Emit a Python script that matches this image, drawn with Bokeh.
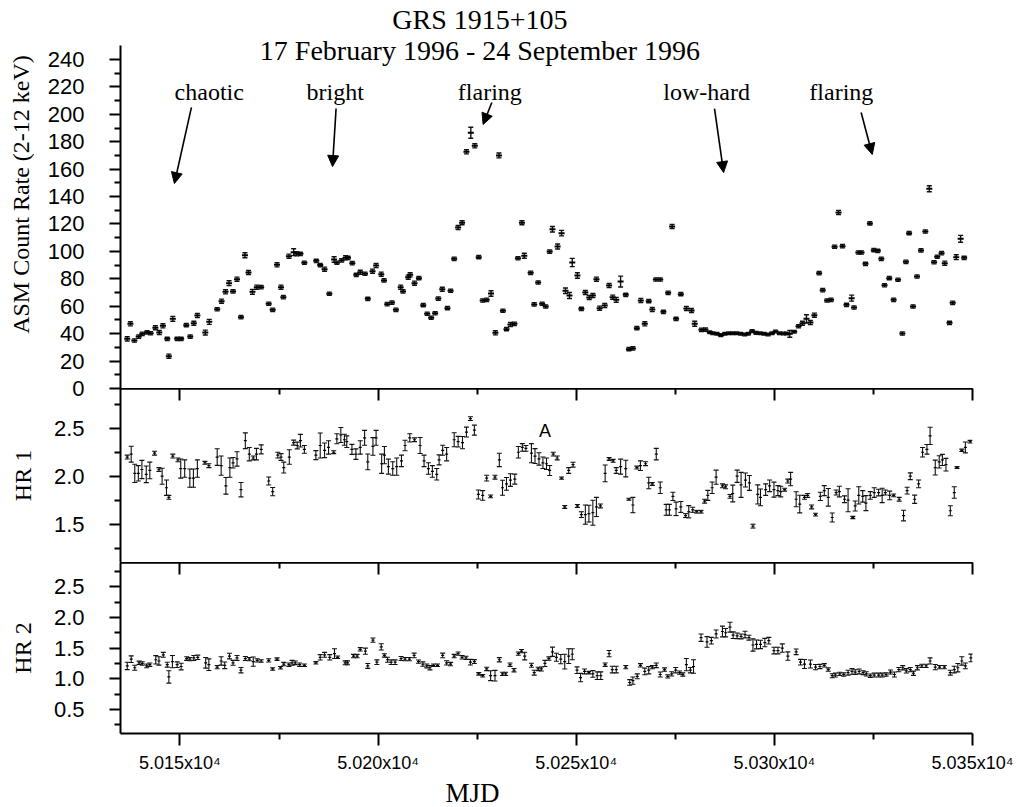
import numpy as np
from bokeh.plotting import figure
from bokeh.layouts import column
from bokeh.models import (Range1d, FixedTicker, Whisker, TeeHead, ColumnDataSource,
                          LinearAxis, Title, Arrow, NormalHead, PrintfTickFormatter)
from bokeh.core.properties import value
from bokeh.embed import file_html
from bokeh.resources import INLINE

# ---------------- data ----------------
asm_mjd = [50136.7, 50137.5, 50138.5, 50139.6, 50140.5, 50141.7, 50142.6, 50143.8, 50144.8, 50145.7,
           50146.8, 50147.2, 50148.2, 50149.3, 50150.3, 50151.6, 50152.6, 50153.5, 50154.4, 50156.4,
           50157.4, 50159.4, 50160.5, 50161.5, 50162.4, 50163.4, 50164.4, 50165.4, 50166.4, 50167.3,
           50168.3, 50169.4, 50170.5, 50172.4, 50173.4, 50174.5, 50175.5, 50176.1, 50177.5, 50178.7,
           50179.5, 50180.4, 50181.4, 50184.4, 50185.4, 50186.5, 50187.7, 50188.9, 50189.6, 50190.8,
           50191.8, 50192.4, 50193.5, 50194.5, 50195.5, 50196.7, 50197.4, 50198.6, 50199.5, 50200.8,
           50201.5, 50202.3, 50203.5, 50204.5, 50205.7, 50206.3, 50207.6, 50208.1, 50209.2, 50210.3,
           50211.4, 50212.4, 50213.4, 50214.4, 50215.2, 50216.2, 50217.5, 50218.3, 50219.2, 50220.2,
           50221.2, 50222.3, 50223.4, 50224.4, 50225.4, 50226.4, 50227.4, 50228.5, 50229.6, 50230.5,
           50231.5, 50232.4, 50233.4, 50234.4, 50235.3, 50236.3, 50236.9, 50238.5, 50239.4, 50240.4,
           50241.4, 50242.3, 50243.3, 50244.0, 50245.3, 50246.3, 50247.3, 50248.3, 50249.0, 50250.3,
           50251.3, 50252.3, 50253.3, 50254.2, 50255.1, 50255.9, 50257.2, 50258.3, 50259.2, 50260.1,
           50261.2, 50262.5, 50263.3, 50264.3, 50265.3, 50266.3, 50267.3, 50268.3, 50269.2, 50270.1,
           50271.2, 50272.0, 50273.2, 50274.2, 50275.2, 50276.4, 50277.8, 50279.1, 50279.9, 50281.6,
           50282.6, 50283.7, 50284.5, 50285.5, 50286.5, 50287.5, 50288.5, 50289.5, 50290.5, 50291.5,
           50292.5, 50293.4, 50294.4, 50295.4, 50296.4, 50297.4, 50298.4, 50299.4, 50300.3, 50301.3,
           50302.3, 50303.1, 50303.9, 50305.0, 50306.1, 50307.1, 50308.1, 50309.1, 50310.1, 50311.3,
           50312.2, 50313.3, 50314.3, 50315.2, 50316.2, 50317.2, 50318.2, 50319.5, 50320.1, 50321.2,
           50322.0, 50323.0, 50324.1, 50325.1, 50326.1, 50327.0, 50327.8, 50329.0, 50330.1, 50331.2,
           50332.3, 50333.2, 50334.0, 50335.0, 50336.0, 50337.0, 50338.1, 50339.1, 50340.3, 50341.1,
           50342.2, 50343.0, 50344.2, 50345.0, 50345.9, 50347.0, 50347.9]
asm_rate = [36.2, 47.2, 35.0, 37.9, 39.9, 41.0, 40.3, 44.3, 40.8, 45.7,
            36.2, 23.6, 50.8, 36.2, 36.2, 46.2, 37.9, 47.6, 53.2, 40.8,
            48.6, 57.8, 63.7, 70.5, 76.8, 70.8, 79.7, 52.0, 97.2, 84.6,
            70.5, 73.9, 73.9, 61.8, 57.4, 90.2, 73.9, 66.6, 96.5, 99.4,
            98.2, 98.2, 91.7, 93.1, 90.0, 87.0, 69.1, 94.1, 91.7, 93.4,
            95.3, 95.3, 91.4, 82.9, 84.8, 83.7, 65.4, 85.6, 89.7, 83.4,
            78.8, 61.5, 62.7, 57.4, 73.9, 70.8, 81.2, 82.9, 76.8, 80.5,
            60.8, 54.5, 51.6, 54.9, 65.6, 72.4, 58.6, 71.3, 94.6, 117.4,
            120.9, 172.6, 186.5, 177.0, 95.8, 64.2, 64.7, 69.3, 40.6, 170.0,
            56.7, 43.3, 46.7, 47.2, 95.0, 120.9, 96.8, 84.4, 61.3, 77.3,
            61.8, 59.8, 99.9, 116.2, 103.6, 113.3, 71.3, 67.8, 91.9, 82.4,
            58.1, 70.0, 66.4, 67.8, 79.7, 58.6, 60.5, 75.1, 66.6, 64.7,
            78.0, 68.3, 28.7, 29.2, 44.0, 64.2, 47.2, 63.7, 57.6, 79.5,
            79.5, 55.9, 69.8, 118.2, 50.8, 68.8, 58.4, 56.9, 47.2, 42.8,
            43.0, 41.0, 40.3, 39.9, 38.9, 39.9, 40.3, 40.3, 40.3, 39.9,
            39.4, 39.9, 41.8, 40.6, 40.3, 39.9, 39.4, 40.3, 41.6, 40.3,
            40.1, 40.1, 39.9, 41.4, 45.4, 47.6, 50.8, 48.1, 53.5, 84.1,
            71.7, 64.2, 64.7, 103.4, 128.4, 103.8, 61.0, 65.9, 59.1, 99.2,
            99.2, 90.9, 120.4, 100.9, 100.4, 94.6, 75.3, 80.5, 64.7, 79.3,
            40.1, 92.4, 113.3, 59.8, 81.7, 100.7, 114.5, 145.7, 92.1, 96.1,
            98.7, 91.4, 47.9, 62.5, 95.8, 109.2, 95.3]
asm_err = [1.5, 1.5, 1.2, 1.2, 1.2, 1.2, 1.2, 1.5, 1.5, 1.5,
           1.2, 1.5, 1.8, 1.2, 1.2, 1.2, 1.2, 1.5, 1.5, 1.8,
           1.8, 1.2, 1.5, 1.5, 1.8, 1.2, 1.5, 1.2, 1.8, 1.5,
           1.8, 1.5, 1.2, 1.2, 1.2, 1.5, 1.5, 1.2, 1.5, 2.5,
           1.5, 1.2, 1.2, 1.2, 1.2, 1.5, 1.2, 2.0, 1.2, 1.2,
           1.5, 1.2, 1.2, 1.2, 1.5, 1.2, 1.2, 1.5, 1.5, 1.5,
           1.2, 1.2, 1.2, 1.2, 1.5, 1.2, 1.5, 1.5, 1.5, 1.2,
           1.2, 1.2, 1.2, 1.2, 1.2, 1.5, 1.2, 1.2, 1.2, 1.5,
           1.5, 1.5, 4.0, 1.5, 1.2, 1.2, 1.2, 2.0, 1.5, 1.8,
           1.2, 1.2, 1.5, 1.2, 1.2, 1.5, 1.8, 1.2, 1.2, 1.2,
           1.2, 1.2, 1.2, 2.0, 1.8, 2.0, 2.0, 2.2, 3.0, 2.0,
           1.2, 1.5, 1.5, 1.5, 1.5, 1.5, 1.5, 1.5, 1.5, 1.8,
           4.0, 1.2, 1.2, 1.2, 1.2, 1.5, 1.5, 1.2, 1.5, 1.2,
           1.2, 1.2, 1.2, 1.5, 1.2, 1.2, 1.5, 1.5, 1.8, 1.2,
           1.2, 1.0, 1.0, 1.0, 1.0, 1.0, 1.0, 1.0, 1.0, 1.0,
           1.0, 1.0, 1.0, 1.0, 1.0, 1.0, 1.0, 1.0, 1.0, 1.0,
           1.0, 1.0, 2.5, 1.0, 1.2, 1.5, 3.0, 1.5, 1.5, 1.2,
           1.2, 1.2, 1.2, 1.2, 1.5, 1.2, 1.2, 2.2, 1.2, 1.2,
           1.2, 1.2, 1.2, 1.2, 1.2, 1.2, 1.2, 1.2, 1.2, 1.2,
           1.2, 1.2, 1.2, 1.2, 1.2, 1.2, 1.2, 2.2, 1.2, 1.2,
           1.2, 1.5, 1.2, 1.2, 1.8, 2.5, 1.2]

hr1_mjd = [50136.7, 50137.7, 50138.6, 50139.5, 50140.4, 50141.5, 50142.4, 50143.6, 50144.7, 50145.5,
           50146.6, 50147.2, 50148.2, 50149.5, 50150.2, 50151.2, 50152.5, 50153.4, 50154.4, 50156.3,
           50157.3, 50159.4, 50160.4, 50161.6, 50162.6, 50163.4, 50164.4, 50165.4, 50166.5, 50167.5,
           50168.5, 50169.3, 50170.5, 50172.4, 50173.4, 50174.7, 50175.5, 50176.2, 50177.6, 50178.7,
           50179.6, 50180.4, 50181.4, 50184.3, 50185.4, 50186.5, 50187.5, 50188.8, 50189.6, 50190.6,
           50191.5, 50192.1, 50193.4, 50194.4, 50195.5, 50196.6, 50197.4, 50198.7, 50199.5, 50200.9,
           50201.6, 50202.6, 50203.7, 50204.7, 50205.9, 50206.8, 50208.0, 50209.2, 50210.6, 50211.6,
           50212.7, 50213.7, 50214.8, 50215.4, 50216.3, 50217.3, 50219.2, 50220.2, 50221.3, 50222.3,
           50223.3, 50224.3, 50225.3, 50226.4, 50227.4, 50228.4, 50229.5, 50230.6, 50231.4, 50232.4,
           50233.4, 50234.5, 50235.4, 50236.4, 50237.3, 50238.7, 50239.6, 50240.6, 50241.6, 50242.5,
           50243.3, 50244.2, 50245.2, 50246.3, 50247.1, 50248.1, 50249.2, 50250.3, 50251.3, 50252.3,
           50253.2, 50254.2, 50255.1, 50256.1, 50257.3, 50258.3, 50259.3, 50260.1, 50261.2, 50262.5,
           50263.3, 50264.3, 50265.3, 50266.2, 50267.5, 50268.3, 50269.2, 50270.2, 50271.2, 50272.7,
           50273.5, 50274.4, 50275.2, 50276.4, 50277.6, 50278.4, 50279.4, 50280.4, 50281.5, 50282.4,
           50283.2, 50284.3, 50285.3, 50286.9, 50287.7, 50288.8, 50289.5, 50290.6, 50291.6, 50292.7,
           50293.7, 50294.6, 50295.8, 50296.5, 50297.8, 50298.8, 50299.9, 50300.9, 50301.6, 50302.6,
           50303.4, 50304.1, 50305.5, 50306.4, 50307.6, 50308.4, 50309.4, 50310.4, 50311.6, 50312.6,
           50313.6, 50314.6, 50315.6, 50316.4, 50317.7, 50318.6, 50319.8, 50320.4, 50321.3, 50322.3,
           50323.1, 50324.2, 50325.2, 50326.3, 50327.2, 50328.0, 50329.1, 50330.1, 50331.5, 50332.6,
           50333.5, 50334.3, 50335.4, 50336.4, 50337.4, 50338.5, 50339.3, 50340.6, 50341.6, 50342.4,
           50343.3, 50344.4, 50345.4, 50346.1, 50347.3, 50348.2, 50349.4]
hr1 = [2.20, 2.23, 2.03, 2.03, 2.07, 2.02, 2.06, 2.24, 2.07, 2.00,
       1.88, 1.78, 2.21, 2.17, 2.08, 2.08, 1.98, 1.98, 2.08, 2.14,
       2.11, 2.20, 2.11, 1.90, 2.09, 2.14, 2.18, 1.86, 2.37, 2.23,
       2.19, 2.23, 2.28, 1.95, 1.84, 2.22, 2.20, 2.09, 2.20, 2.35,
       2.32, 2.37, 2.28, 2.22, 2.32, 2.27, 2.30, 2.25, 2.39, 2.43,
       2.38, 2.36, 2.28, 2.23, 2.30, 2.40, 2.15, 2.31, 2.40, 2.13,
       2.22, 2.10, 2.08, 2.10, 2.16, 2.32, 2.40, 2.38, 2.32, 2.16,
       2.08, 2.05, 2.02, 2.17, 2.27, 2.23, 2.38, 2.36, 2.35, 2.46,
       2.60, 2.48, 1.81, 1.80, 1.98, 1.79, 1.99, 2.17, 1.88, 1.92,
       1.96, 1.97, 2.25, 2.30, 2.29, 2.24, 2.21, 2.18, 2.14, 2.13,
       2.06, 2.23, 2.19, 1.98, 1.68, 2.06, 2.12, 1.69, 1.60, 1.60,
       1.61, 1.62, 1.68, 1.69, 2.03, 2.18, 2.16, 2.06, 2.10, 2.08,
       1.76, 1.70, 2.09, 2.11, 2.13, 1.93, 1.92, 2.23, 1.88, 1.65,
       1.65, 1.79, 1.66, 1.68, 1.59, 1.63, 1.65, 1.63, 1.63, 1.74,
       1.80, 1.88, 1.99, 1.90, 1.89, 1.79, 1.82, 2.00, 1.91, 1.96,
       1.93, 1.48, 1.81, 1.78, 1.86, 1.90, 1.86, 1.85, 1.84, 1.86,
       1.95, 1.97, 1.76, 1.71, 1.78, 1.80, 1.68, 1.60, 1.79, 1.85,
       1.78, 1.57, 1.83, 1.84, 1.76, 1.75, 1.57, 1.69, 1.80, 1.79,
       1.72, 1.80, 1.83, 1.83, 1.80, 1.83, 1.80, 1.80, 1.76, 1.59,
       1.85, 2.00, 1.76, 1.92, 2.25, 2.28, 2.42, 2.09, 2.15, 2.17,
       2.12, 1.64, 1.83, 2.09, 2.27, 2.30, 2.36]
hr1_err = [0.020, 0.083, 0.095, 0.080, 0.095, 0.087, 0.087, 0.020, 0.020, 0.083,
           0.080, 0.020, 0.020, 0.020, 0.100, 0.090, 0.095, 0.095, 0.090, 0.015,
           0.020, 0.087, 0.100, 0.087, 0.100, 0.055, 0.075, 0.075, 0.082, 0.070,
           0.020, 0.060, 0.047, 0.042, 0.043, 0.030, 0.035, 0.057, 0.076, 0.026,
           0.035, 0.066, 0.040, 0.047, 0.130, 0.076, 0.070, 0.015, 0.052, 0.078,
           0.057, 0.060, 0.052, 0.055, 0.070, 0.078, 0.082, 0.092, 0.078, 0.100,
           0.090, 0.078, 0.070, 0.090, 0.060, 0.055, 0.043, 0.020, 0.083, 0.060,
           0.060, 0.060, 0.060, 0.052, 0.052, 0.070, 0.073, 0.055, 0.064, 0.052,
           0.020, 0.052, 0.047, 0.050, 0.030, 0.015, 0.020, 0.070, 0.078, 0.066,
           0.066, 0.052, 0.060, 0.040, 0.030, 0.100, 0.078, 0.064, 0.060, 0.060,
           0.052, 0.020, 0.020, 0.012, 0.015, 0.030, 0.025, 0.015, 0.030, 0.100,
           0.087, 0.130, 0.100, 0.020, 0.087, 0.015, 0.015, 0.030, 0.078, 0.087,
           0.010, 0.080, 0.015, 0.050, 0.020, 0.060, 0.015, 0.060, 0.060, 0.057,
           0.057, 0.043, 0.070, 0.057, 0.020, 0.064, 0.026, 0.014, 0.014, 0.020,
           0.052, 0.060, 0.073, 0.020, 0.020, 0.020, 0.087, 0.064, 0.130, 0.073,
           0.078, 0.020, 0.100, 0.087, 0.060, 0.060, 0.078, 0.052, 0.055, 0.015,
           0.020, 0.070, 0.078, 0.092, 0.020, 0.020, 0.020, 0.014, 0.043, 0.052,
           0.092, 0.047, 0.026, 0.055, 0.035, 0.120, 0.012, 0.052, 0.090, 0.060,
           0.078, 0.040, 0.050, 0.035, 0.075, 0.026, 0.045, 0.014, 0.020, 0.055,
           0.035, 0.035, 0.043, 0.040, 0.050, 0.050, 0.090, 0.078, 0.064, 0.058,
           0.066, 0.052, 0.060, 0.010, 0.012, 0.057, 0.014]

hr2_mjd = [50136.7, 50137.7, 50138.6, 50139.7, 50140.5, 50141.6, 50142.4, 50143.9, 50144.7, 50145.8,
           50146.8, 50147.2, 50148.1, 50149.3, 50150.3, 50151.7, 50152.5, 50153.5, 50154.5, 50156.5,
           50157.3, 50159.4, 50160.4, 50161.3, 50162.5, 50163.4, 50164.4, 50165.4, 50166.5, 50167.5,
           50168.5, 50169.5, 50170.5, 50172.4, 50173.4, 50174.5, 50175.4, 50176.2, 50177.5, 50178.3,
           50179.1, 50180.2, 50181.4, 50184.3, 50185.4, 50186.5, 50187.8, 50189.0, 50189.8, 50191.7,
           50192.3, 50193.8, 50194.7, 50195.5, 50196.8, 50197.4, 50198.7, 50199.7, 50200.8, 50201.6,
           50202.4, 50203.3, 50204.3, 50205.8, 50206.8, 50207.9, 50209.1, 50210.2, 50211.3, 50212.3,
           50213.1, 50214.0, 50215.0, 50216.3, 50217.3, 50218.3, 50219.2, 50220.2, 50221.2, 50222.2,
           50223.3, 50224.3, 50225.4, 50226.4, 50227.4, 50228.4, 50229.5, 50230.6, 50231.4, 50232.2,
           50233.3, 50234.3, 50235.4, 50236.2, 50237.0, 50238.7, 50239.4, 50240.4, 50241.2, 50242.1,
           50243.1, 50244.0, 50245.0, 50246.1, 50247.1, 50248.1, 50249.0, 50250.2, 50251.1, 50252.1,
           50253.2, 50254.2, 50255.3, 50256.2, 50257.3, 50258.3, 50259.1, 50260.1, 50262.5, 50263.5,
           50264.3, 50265.4, 50266.2, 50267.3, 50268.3, 50269.2, 50270.2, 50271.2, 50272.3, 50273.1,
           50274.1, 50275.1, 50276.1, 50276.9, 50277.8, 50278.8, 50279.6, 50281.5, 50283.0, 50284.1,
           50285.3, 50286.9, 50287.7, 50288.8, 50289.6, 50290.6, 50291.6, 50292.6, 50293.6, 50294.6,
           50295.5, 50296.5, 50297.6, 50298.6, 50299.9, 50300.9, 50302.0, 50303.4, 50305.5, 50306.6,
           50307.6, 50309.1, 50310.4, 50311.5, 50312.6, 50313.6, 50314.6, 50315.4, 50316.5, 50317.5,
           50318.6, 50319.6, 50320.4, 50321.4, 50322.4, 50323.2, 50324.2, 50325.2, 50326.3, 50327.2,
           50328.2, 50329.3, 50330.3, 50331.4, 50332.4, 50333.3, 50334.3, 50335.1, 50336.1, 50337.2,
           50338.3, 50339.3, 50340.6, 50341.7, 50342.9, 50344.4, 50345.4, 50346.3, 50347.3, 50348.2,
           50349.6]
hr2 = [1.21, 1.32, 1.18, 1.26, 1.25, 1.21, 1.23, 1.31, 1.29, 1.39,
       1.23, 1.03, 1.28, 1.23, 1.20, 1.33, 1.32, 1.34, 1.35, 1.26,
       1.23, 1.19, 1.29, 1.22, 1.37, 1.26, 1.34, 1.14, 1.33, 1.32,
       1.28, 1.30, 1.29, 1.30, 1.16, 1.32, 1.18, 1.24, 1.23, 1.26,
       1.26, 1.23, 1.22, 1.26, 1.35, 1.39, 1.35, 1.41, 1.35, 1.26,
       1.26, 1.37, 1.37, 1.48, 1.45, 1.21, 1.63, 1.27, 1.52, 1.38,
       1.31, 1.27, 1.27, 1.33, 1.32, 1.32, 1.38, 1.28, 1.24, 1.21,
       1.18, 1.22, 1.22, 1.38, 1.26, 1.24, 1.37, 1.41, 1.35, 1.34,
       1.27, 1.28, 1.08, 1.05, 1.16, 1.05, 1.05, 1.31, 1.08, 1.08,
       1.23, 1.14, 1.41, 1.45, 1.37, 1.22, 1.10, 1.16, 1.16, 1.25,
       1.33, 1.44, 1.35, 1.32, 1.28, 1.37, 1.40, 1.14, 1.02, 1.12,
       1.10, 1.08, 1.05, 1.05, 1.23, 1.41, 1.15, 1.15, 1.19, 0.94,
       0.97, 1.04, 1.22, 1.12, 1.14, 1.19, 1.22, 1.07, 1.15, 1.04,
       1.08, 1.14, 1.10, 1.07, 1.23, 1.14, 1.20, 1.67, 1.60, 1.62,
       1.73, 1.77, 1.75, 1.84, 1.71, 1.70, 1.69, 1.72, 1.67, 1.55,
       1.56, 1.56, 1.59, 1.62, 1.46, 1.46, 1.50, 1.37, 1.44, 1.27,
       1.24, 1.24, 1.19, 1.20, 1.22, 1.15, 1.05, 1.06, 1.08, 1.07,
       1.10, 1.12, 1.11, 1.12, 1.10, 1.08, 1.05, 1.06, 1.06, 1.06,
       1.07, 1.11, 1.07, 1.15, 1.18, 1.13, 1.15, 1.09, 1.18, 1.21,
       1.21, 1.29, 1.19, 1.19, 1.19, 1.10, 1.15, 1.18, 1.29, 1.21,
       1.34]
hr2_err = [0.060, 0.054, 0.040, 0.027, 0.027, 0.030, 0.027, 0.068, 0.068, 0.040,
           0.040, 0.100, 0.100, 0.045, 0.054, 0.030, 0.027, 0.040, 0.035, 0.086,
           0.095, 0.027, 0.068, 0.054, 0.046, 0.040, 0.040, 0.043, 0.032, 0.027,
           0.075, 0.027, 0.020, 0.027, 0.020, 0.020, 0.020, 0.027, 0.027, 0.040,
           0.030, 0.027, 0.020, 0.020, 0.043, 0.040, 0.043, 0.080, 0.020, 0.032,
           0.032, 0.027, 0.027, 0.027, 0.050, 0.040, 0.035, 0.038, 0.050, 0.027,
           0.040, 0.038, 0.038, 0.032, 0.027, 0.027, 0.038, 0.027, 0.035, 0.032,
           0.035, 0.020, 0.020, 0.038, 0.035, 0.027, 0.027, 0.027, 0.027, 0.027,
           0.046, 0.032, 0.020, 0.020, 0.027, 0.080, 0.087, 0.035, 0.027, 0.027,
           0.027, 0.027, 0.027, 0.027, 0.062, 0.032, 0.040, 0.027, 0.032, 0.050,
           0.027, 0.075, 0.065, 0.075, 0.120, 0.120, 0.090, 0.054, 0.068, 0.040,
           0.020, 0.054, 0.062, 0.062, 0.027, 0.050, 0.054, 0.054, 0.027, 0.046,
           0.060, 0.040, 0.027, 0.054, 0.060, 0.027, 0.038, 0.040, 0.027, 0.027,
           0.035, 0.043, 0.027, 0.027, 0.100, 0.043, 0.110, 0.060, 0.087, 0.054,
           0.065, 0.087, 0.068, 0.080, 0.054, 0.046, 0.040, 0.054, 0.040, 0.100,
           0.073, 0.068, 0.068, 0.054, 0.054, 0.054, 0.068, 0.068, 0.046, 0.046,
           0.073, 0.065, 0.043, 0.035, 0.027, 0.027, 0.032, 0.032, 0.027, 0.027,
           0.040, 0.046, 0.038, 0.040, 0.032, 0.035, 0.027, 0.032, 0.032, 0.032,
           0.027, 0.032, 0.040, 0.035, 0.035, 0.035, 0.035, 0.035, 0.035, 0.027,
           0.027, 0.050, 0.043, 0.027, 0.027, 0.040, 0.054, 0.068, 0.068, 0.046,
           0.062]

x_ticks = [50150, 50200, 50250, 50300, 50350]
x_minor = [50175, 50225, 50275, 50325]
x_tick_labels = ["5.015x10\u2074", "5.020x10\u2074", "5.025x10\u2074", "5.030x10\u2074", "5.035x10\u2074"]
asm_ticks = [0, 20, 40, 60, 80, 100, 120, 140, 160, 180, 200, 220, 240]
asm_minor = [10, 30, 50, 70, 90, 110, 130, 150, 170, 190, 210, 230]
hr1_ticks = [1.5, 2.0, 2.5]
hr1_minor = [1.25, 1.75, 2.25, 2.75]
hr2_ticks = [0.5, 1.0, 1.5, 2.0, 2.5]
hr2_minor = [0.25, 0.75, 1.25, 1.75, 2.25, 2.75]
state_labels = ["chaotic", "bright", "flaring", "low-hard", "flaring"]
title_lines = ["GRS 1915+105", "17 February 1996 - 24 September 1996"]

# ---------------- styling ----------------
SERIF = "Liberation Serif"
SANS = "Liberation Sans"
INK = "black"
BAR = "#111111"

x_range = Range1d(50135, 50350)


def base_fig(height, y_range, border_top=0, border_bottom=0, x_loc=None, margin=0):
    p = figure(width=1020, height=height, x_range=x_range, y_range=y_range,
               output_backend="svg", toolbar_location=None, title=None,
               x_axis_location=x_loc, y_axis_location="left",
               min_border_left=120, min_border_right=48,
               min_border_top=border_top, min_border_bottom=border_bottom,
               margin=margin)
    p.xgrid.visible = False
    p.ygrid.visible = False
    p.outline_line_color = None
    p.background_fill_alpha = 0
    p.border_fill_alpha = 0
    return p


def style_y(p, ticks, minor, label, fmt, label_standoff, bounds=None):
    ax = p.yaxis[0]
    ax.ticker = FixedTicker(ticks=ticks, minor_ticks=minor)
    if fmt:
        ax.formatter = PrintfTickFormatter(format=fmt)
    if bounds is not None:
        ax.bounds = bounds
    ax.axis_line_width = 2
    ax.axis_line_color = INK
    ax.major_tick_line_width = 2
    ax.minor_tick_line_width = 2
    ax.major_tick_line_color = INK
    ax.minor_tick_line_color = INK
    ax.major_tick_out = 11
    ax.major_tick_in = 0
    ax.minor_tick_out = 6
    ax.minor_tick_in = 0
    ax.major_label_text_font = SANS
    ax.major_label_text_font_size = "22px"
    ax.major_label_text_color = INK
    ax.major_label_standoff = 25
    ax.axis_label = label
    ax.axis_label_text_font = SERIF
    ax.axis_label_text_font_size = "24px"
    ax.axis_label_text_font_style = "normal"
    ax.axis_label_text_color = INK
    ax.axis_label_standoff = label_standoff


def top_ticks(p):
    # boundary line with downward-pointing ticks (no labels): long ticks, then short ticks
    for positions, length in ((x_ticks, 12), (x_minor, 6)):
        ax = LinearAxis(ticker=FixedTicker(ticks=[], minor_ticks=positions),
                        axis_line_width=2, axis_line_color=INK,
                        major_tick_in=0, major_tick_out=0,
                        minor_tick_line_width=2, minor_tick_line_color=INK,
                        minor_tick_in=length, minor_tick_out=0,
                        major_label_standoff=0)
        p.add_layout(ax, "above")


def error_points(p, xs, ys, es, head, marker_size, bar_width, mark_width):
    xs = np.array(xs)
    ys = np.array(ys)
    es = np.array(es)
    src = ColumnDataSource(dict(x=xs, y=ys, lo=ys - es, hi=ys + es))
    w = Whisker(source=src, base="x", lower="lo", upper="hi", dimension="height",
                line_color=BAR, line_width=bar_width,
                lower_head=TeeHead(size=head, line_color=BAR, line_width=bar_width),
                upper_head=TeeHead(size=head, line_color=BAR, line_width=bar_width))
    p.add_layout(w)
    p.scatter("x", "y", source=src, marker="dash", size=marker_size,
              line_color=INK, line_width=mark_width)


# ---------------- panel 1: ASM count rate ----------------
p1 = base_fig(400, Range1d(0, 283), border_bottom=12, margin=(0, 0, -12, 0))
style_y(p1, asm_ticks, asm_minor, "ASM Count Rate (2-12 keV)", None, 11, bounds=(0, 250))
error_points(p1, asm_mjd, asm_rate, asm_err, 5, 6, 1.4, 2)

p1.text(x=[50225.7, 50225.7], y=[269.1, 246.5], text=title_lines,
        text_font=value(SERIF), text_font_size="28px", text_align="center",
        text_baseline="middle", text_color=INK)
p1.text(x=[50157.4, 50189.2, 50228.2, 50282.9, 50316.9], y=[215.9] * 5, text=state_labels,
        text_font=value(SERIF), text_font_size="24px", text_align="center",
        text_baseline="middle", text_color=INK)
arrow_tails = [(50152.9, 205.0), (50189.4, 204.2), (50228.7, 208.6), (50284.9, 204.2), (50321.9, 201.3)]
arrow_tips = [(50148.6, 149.5), (50188.5, 161.9), (50226.5, 192.6), (50287.2, 157.5), (50324.7, 170.7)]
for (xs_, ys_), (xe_, ye_) in zip(arrow_tails, arrow_tips):
    p1.add_layout(Arrow(end=NormalHead(size=11, fill_color=INK, line_color=INK, line_width=1),
                        x_start=xs_, y_start=ys_, x_end=xe_, y_end=ye_,
                        line_color=INK, line_width=1.6))

# ---------------- panel 2: HR 1 ----------------
p2 = base_fig(174, Range1d(1.101, 2.914))
style_y(p2, hr1_ticks, hr1_minor, "HR 1", "%.1f", 15)
top_ticks(p2)
error_points(p2, hr1_mjd, hr1, hr1_err, 5, 3, 1.1, 1.2)
p2.text(x=[50242.1], y=[2.476], text=["A"], text_font=value(SANS), text_font_size="18px",
        text_align="center", text_baseline="middle", text_color=INK)

# ---------------- panel 3: HR 2 ----------------
p3 = base_fig(245, Range1d(0.109, 2.894), border_bottom=74, x_loc="below")
xb = p3.below[0]
style_y(p3, hr2_ticks, hr2_minor, "HR 2", "%.1f", 15)
top_ticks(p3)
error_points(p3, hr2_mjd, hr2, hr2_err, 5, 3, 1.1, 1.2)

xb.ticker = FixedTicker(ticks=x_ticks, minor_ticks=x_minor)
xb.major_label_overrides = dict(zip(x_ticks, x_tick_labels))
xb.axis_line_width = 2
xb.axis_line_color = INK
xb.major_tick_line_width = 2
xb.minor_tick_line_width = 2
xb.major_tick_line_color = INK
xb.minor_tick_line_color = INK
xb.major_tick_out = 12
xb.major_tick_in = 0
xb.minor_tick_out = 6
xb.minor_tick_in = 0
xb.major_label_text_font = SANS
xb.major_label_text_font_size = "18px"
xb.major_label_text_color = INK
xb.major_label_standoff = 7
p3.add_layout(Title(text="MJD", align="left", offset=325, text_font=SERIF,
                    text_font_size="27px", text_font_style="normal",
                    text_color=INK, standoff=0), "below")

layout = column(p1, p2, p3)
open("out.html", "w").write(file_html(layout, INLINE))
